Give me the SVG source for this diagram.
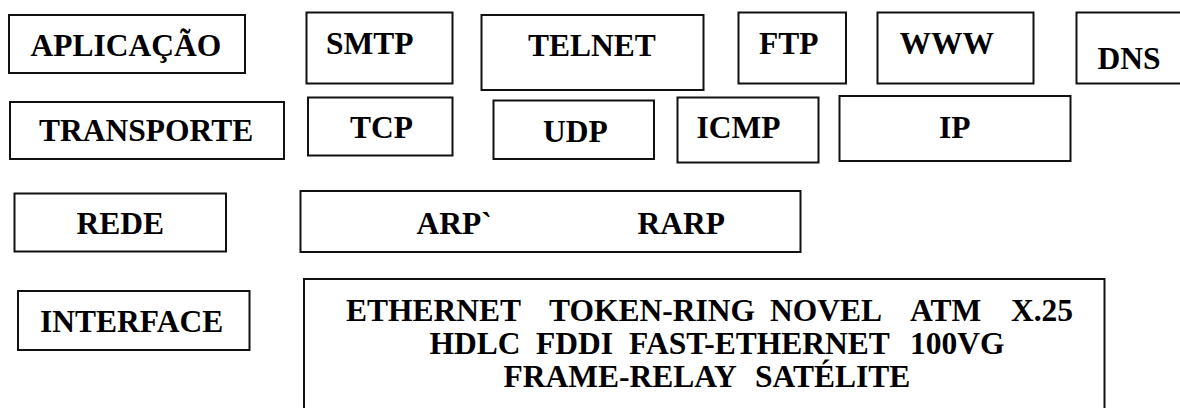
<svg xmlns="http://www.w3.org/2000/svg" width="1180" height="408" viewBox="0 0 1180 408">
  <style>
    .box { fill: #fff; stroke: #111; stroke-width: 2; }
    .lbl { font-family: "Liberation Serif", "Times New Roman", serif; font-weight: bold; font-size: 31.5px; fill: #000; }
  </style>
  <rect width="1180" height="408" fill="#fff"/>

  <!-- layer names -->
  <g id="aplicacao">
    <rect class="box" x="9" y="15" width="236" height="58"/>
    <text class="lbl" x="30.5" y="56">APLICAÇÃO</text>
  </g>
  <g id="transporte">
    <rect class="box" x="10" y="102" width="274" height="57"/>
    <text class="lbl" x="39" y="141">TRANSPORTE</text>
  </g>
  <g id="rede">
    <rect class="box" x="14.5" y="193.5" width="211.5" height="58"/>
    <text class="lbl" x="76.5" y="234">REDE</text>
  </g>
  <g id="interface">
    <rect class="box" x="18" y="291" width="231.5" height="59"/>
    <text class="lbl" x="40" y="331.5">INTERFACE</text>
  </g>

  <!-- application protocols -->
  <g id="smtp">
    <rect class="box" x="306.5" y="12.5" width="146" height="71"/>
    <text class="lbl" x="326" y="54">SMTP</text>
  </g>
  <g id="telnet">
    <rect class="box" x="481.5" y="15" width="222" height="75"/>
    <text class="lbl" x="528" y="56">TELNET</text>
  </g>
  <g id="ftp">
    <rect class="box" x="738.5" y="12.5" width="107.5" height="71"/>
    <text class="lbl" x="759" y="53.5">FTP</text>
  </g>
  <g id="www">
    <rect class="box" x="877.5" y="12.5" width="156" height="71"/>
    <text class="lbl" x="899.5" y="53.5">WWW</text>
  </g>
  <g id="dns">
    <rect class="box" x="1076.5" y="12.5" width="120" height="71"/>
    <text class="lbl" x="1097.5" y="69">DNS</text>
  </g>

  <!-- transport / internet protocols -->
  <g id="tcp">
    <rect class="box" x="308" y="97.5" width="144.5" height="58"/>
    <text class="lbl" x="350" y="137.5">TCP</text>
  </g>
  <g id="udp">
    <rect class="box" x="493.5" y="100.5" width="160.5" height="58.5"/>
    <text class="lbl" x="543" y="141.5">UDP</text>
  </g>
  <g id="icmp">
    <rect class="box" x="677.5" y="97.5" width="141" height="65"/>
    <text class="lbl" x="696.5" y="137.5">ICMP</text>
  </g>
  <g id="ip">
    <rect class="box" x="839.5" y="96" width="231" height="65"/>
    <text class="lbl" x="939" y="137.5">IP</text>
  </g>

  <!-- address resolution -->
  <g id="arp-rarp">
    <rect class="box" x="300.5" y="191" width="500" height="61"/>
    <text class="lbl" x="416.5" y="233.5">ARP`</text>
    <text class="lbl" x="637.5" y="233.5">RARP</text>
  </g>

  <!-- link technologies -->
  <g id="enlace">
    <rect class="box" x="304" y="279" width="800.5" height="150"/>
    <text class="lbl" y="321">
      <tspan x="346">ETHERNET</tspan>
      <tspan x="549">TOKEN-RING</tspan>
      <tspan x="770">NOVEL</tspan>
      <tspan x="910">ATM</tspan>
      <tspan x="1011">X.25</tspan>
    </text>
    <text class="lbl" y="354">
      <tspan x="429.5">HDLC</tspan>
      <tspan x="536">FDDI</tspan>
      <tspan x="629">FAST-ETHERNET</tspan>
      <tspan x="910">100VG</tspan>
    </text>
    <text class="lbl" y="387">
      <tspan x="503.5">FRAME-RELAY</tspan>
      <tspan x="755">SATÉLITE</tspan>
    </text>
  </g>

  <g id="connectors"/>
</svg>
